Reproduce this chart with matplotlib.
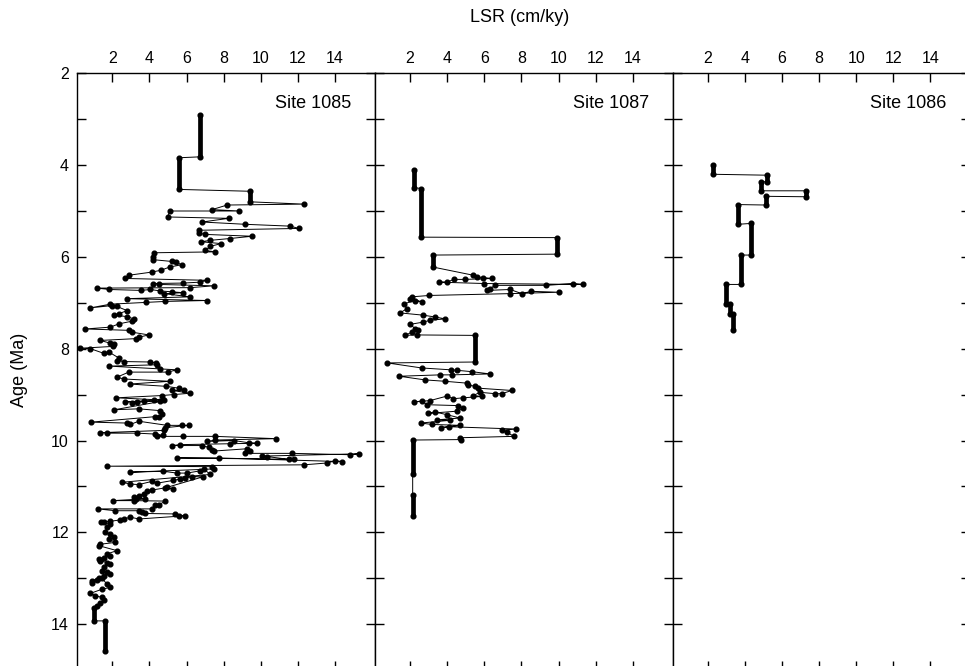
"""
Linear sedimentation rate (LSR) vs age for Sites 1085, 1087 and 1086.
Three panels side by side sharing the age axis.
"""
import numpy as np
import matplotlib.pyplot as plt

plt.rcParams.update({'font.family': ['Liberation Sans', 'DejaVu Sans'],
                     'font.size': 11.5})

SITES = ["Site 1085", "Site 1087", "Site 1086"]

# ---- Site 1085: sample sequence (LSR cm/ky, age Ma) ----
s1085_lsr = [6.72, 6.72, 5.59, 5.59, 9.42, 9.42, 12.31, 8.18, 7.37, 8.84, 5.09, 4.98,
             8.27, 6.83, 9.17, 11.59, 12.04, 6.65, 6.65, 7.01, 9.53, 8.32, 7.25, 6.78,
             7.86, 7.28, 7.01, 7.55, 4.26, 4.19, 4.19, 5.22, 5.43, 5.75, 5.09, 4.62,
             4.14, 2.88, 2.70, 7.10, 6.74, 5.81, 4.19, 4.50, 7.46, 6.20, 1.17, 1.84,
             3.55, 4.05, 4.55, 5.22, 5.81, 4.77, 6.20, 2.79, 7.10, 4.86, 3.83, 1.89,
             0.82, 1.98, 2.25, 2.79, 2.34, 2.07, 2.79, 3.15, 3.06, 2.34, 1.89, 0.55,
             2.88, 3.06, 3.96, 3.42, 3.29, 1.35, 1.89, 2.07, 2.04, 0.28, 0.82, 1.53,
             1.80, 2.34, 2.25, 2.61, 4.05, 4.35, 4.41, 1.84, 4.59, 5.48, 4.98, 2.88,
             2.25, 2.61, 5.09, 2.93, 4.91, 5.57, 5.84, 5.22, 6.20, 5.30, 4.68, 2.22,
             4.23, 4.80, 2.70, 3.33, 3.06, 3.69, 4.59, 2.11, 3.42, 4.59, 4.68, 4.50,
             4.32, 0.85, 2.79, 2.97, 3.42, 4.95, 5.75, 6.11, 4.86, 4.80, 1.32, 1.71,
             3.33, 4.32, 4.73, 4.41, 5.81, 7.55, 10.82, 7.55, 7.10, 8.54, 9.35, 9.79,
             8.36, 5.66, 5.21, 6.83, 7.19, 7.37, 7.46, 9.26, 9.44, 9.17, 11.68, 14.82,
             15.27, 10.07, 10.33, 11.50, 11.77, 5.48, 7.73, 14.38, 14.02, 13.57, 12.31, 1.71,
             7.37, 7.46, 2.97, 4.73, 5.48, 6.02, 6.74, 6.92, 7.28, 2.52, 2.97, 3.42,
             4.14, 4.41, 5.27, 5.66, 5.93, 6.29, 6.89, 4.95, 5.27, 4.86, 4.14, 3.87,
             3.69, 3.42, 3.15, 3.29, 3.78, 2.04, 3.15, 4.86, 4.50, 4.32, 4.14, 1.21,
             2.16, 3.42, 3.60, 3.78, 5.39, 5.57, 5.93, 3.42, 2.97, 2.61, 2.43, 1.89,
             1.39, 1.53, 1.89, 1.71, 1.62, 1.89, 2.07, 1.80, 2.16, 1.35, 1.26, 2.25,
             1.71, 1.89, 1.53, 1.26, 1.35, 1.71, 1.89, 1.53, 1.44, 1.71, 1.89, 1.53,
             1.26, 0.90, 0.90, 1.17, 1.44, 1.71, 1.89, 1.44, 0.82, 1.08, 1.44, 1.53,
             1.35, 1.17, 0.99, 0.99, 1.62, 1.62]
s1085_age = [2.91, 3.82, 3.84, 4.53, 4.57, 4.80, 4.85, 4.87, 4.97, 5.00, 5.00, 5.13,
             5.16, 5.24, 5.29, 5.33, 5.38, 5.42, 5.48, 5.51, 5.55, 5.60, 5.64, 5.67,
             5.71, 5.77, 5.86, 5.89, 5.91, 6.00, 6.06, 6.10, 6.12, 6.17, 6.22, 6.29,
             6.33, 6.40, 6.47, 6.51, 6.55, 6.57, 6.58, 6.60, 6.63, 6.67, 6.68, 6.71,
             6.73, 6.71, 6.74, 6.76, 6.78, 6.80, 6.87, 6.91, 6.95, 6.97, 6.99, 7.03,
             7.11, 7.06, 7.08, 7.17, 7.24, 7.27, 7.30, 7.35, 7.40, 7.46, 7.53, 7.57,
             7.60, 7.64, 7.70, 7.75, 7.78, 7.82, 7.88, 7.89, 7.95, 7.99, 8.00, 8.10,
             8.07, 8.20, 8.26, 8.28, 8.29, 8.31, 8.35, 8.38, 8.44, 8.46, 8.51, 8.51,
             8.62, 8.66, 8.71, 8.77, 8.82, 8.86, 8.90, 8.91, 8.97, 9.00, 9.02, 9.07,
             9.11, 9.11, 9.16, 9.16, 9.19, 9.15, 9.15, 9.33, 9.31, 9.35, 9.42, 9.49,
             9.48, 9.60, 9.62, 9.65, 9.58, 9.67, 9.67, 9.67, 9.72, 9.78, 9.83, 9.84,
             9.84, 9.86, 9.89, 9.91, 9.91, 9.91, 9.96, 9.99, 10.02, 10.00, 10.05, 10.06,
             10.07, 10.09, 10.11, 10.11, 10.15, 10.20, 10.23, 10.18, 10.22, 10.28, 10.28, 10.31,
             10.29, 10.34, 10.35, 10.41, 10.41, 10.38, 10.38, 10.46, 10.44, 10.49, 10.53, 10.56,
             10.57, 10.62, 10.69, 10.67, 10.71, 10.71, 10.66, 10.62, 10.74, 10.91, 10.95, 10.96,
             10.89, 10.93, 10.87, 10.84, 10.82, 10.79, 10.79, 11.02, 11.06, 11.03, 11.08, 11.11,
             11.16, 11.20, 11.24, 11.27, 11.27, 11.31, 11.31, 11.32, 11.40, 11.40, 11.49, 11.49,
             11.53, 11.53, 11.56, 11.59, 11.60, 11.64, 11.64, 11.71, 11.67, 11.71, 11.73, 11.76,
             11.78, 11.78, 11.82, 11.89, 12.00, 12.04, 12.11, 12.15, 12.22, 12.26, 12.29, 12.40,
             12.47, 12.51, 12.55, 12.58, 12.62, 12.66, 12.69, 12.76, 12.84, 12.87, 12.91, 12.95,
             13.00, 13.06, 13.11, 13.04, 13.00, 13.13, 13.20, 13.24, 13.33, 13.38, 13.42, 13.48,
             13.53, 13.60, 13.64, 13.93, 13.93, 14.58]
# densely sampled intervals of constant rate: lsr, top age, bottom age
s1085_run_lsr = [6.72, 5.59, 9.42, 0.99, 1.62]
s1085_run_top = [2.91, 3.84, 4.57, 13.64, 13.93]
s1085_run_bot = [3.82, 4.53, 4.80, 13.93, 14.58]

# ---- Site 1087 ----
s1087_lsr = [2.21, 2.21, 2.59, 2.59, 9.94, 9.94, 3.22, 3.22, 5.41, 5.59, 5.95, 6.40,
             4.96, 4.34, 4.01, 3.56, 5.99, 11.34, 10.80, 9.33, 6.58, 6.31, 6.13, 7.39,
             8.02, 8.52, 10.00, 7.39, 3.04, 2.09, 2.00, 2.63, 2.27, 1.68, 1.82, 1.46,
             2.72, 3.35, 3.89, 3.08, 2.72, 2.00, 2.27, 2.45, 2.09, 1.73, 2.36, 5.50,
             5.50, 0.78, 2.63, 4.19, 4.51, 5.32, 6.31, 4.24, 3.62, 1.42, 2.81, 3.89,
             5.05, 5.14, 5.50, 5.68, 7.48, 6.94, 6.58, 5.77, 5.41, 5.86, 4.87, 4.33,
             4.01, 3.08, 2.23, 2.63, 2.90, 4.60, 4.87, 4.55, 2.99, 3.35, 4.01, 4.69,
             3.47, 4.15, 2.57, 3.17, 4.69, 3.65, 4.12, 7.71, 6.94, 7.21, 7.60, 4.69,
             4.73, 2.14, 2.14, 2.14, 2.14]
s1087_age = [4.10, 4.49, 4.51, 5.57, 5.58, 5.94, 5.96, 6.22, 6.40, 6.44, 6.45, 6.47,
             6.49, 6.49, 6.55, 6.55, 6.58, 6.60, 6.58, 6.62, 6.62, 6.69, 6.73, 6.71,
             6.80, 6.75, 6.77, 6.80, 6.84, 6.87, 6.91, 6.98, 6.95, 7.02, 7.13, 7.22,
             7.27, 7.31, 7.35, 7.38, 7.42, 7.47, 7.56, 7.60, 7.64, 7.71, 7.70, 7.71,
             8.29, 8.31, 8.42, 8.46, 8.47, 8.50, 8.55, 8.57, 8.57, 8.60, 8.68, 8.71,
             8.75, 8.79, 8.82, 8.86, 8.91, 8.98, 8.98, 8.95, 9.02, 9.04, 9.07, 9.09,
             9.03, 9.13, 9.16, 9.14, 9.22, 9.24, 9.30, 9.36, 9.41, 9.38, 9.44, 9.51,
             9.55, 9.56, 9.62, 9.65, 9.67, 9.72, 9.70, 9.75, 9.78, 9.82, 9.91, 9.94,
             9.98, 9.99, 10.73, 11.18, 11.64]
s1087_run_lsr = [2.21, 2.59, 9.94, 3.22, 5.50, 2.14, 2.14]
s1087_run_top = [4.10, 4.51, 5.58, 5.96, 7.71, 9.99, 11.18]
s1087_run_bot = [4.49, 5.57, 5.94, 6.22, 8.29, 10.73, 11.64]

# ---- Site 1086: only constant-rate intervals ----
s1086_run_lsr = [2.29, 5.20, 4.85, 7.31, 5.16, 3.63, 4.35, 3.81, 3.00, 3.18, 3.36]
s1086_run_top = [4.00, 4.22, 4.37, 4.56, 4.68, 4.86, 5.27, 5.96, 6.60, 7.02, 7.24]
s1086_run_bot = [4.20, 4.36, 4.56, 4.69, 4.87, 5.29, 5.96, 6.60, 7.02, 7.24, 7.60]

# sequence for 1086 is just the run end points in order
s1086_lsr = [v for v in s1086_run_lsr for _ in (0, 1)]
s1086_age = [a for pair in zip(s1086_run_top, s1086_run_bot) for a in pair]

series = [
    (s1085_lsr, s1085_age, s1085_run_lsr, s1085_run_top, s1085_run_bot),
    (s1087_lsr, s1087_age, s1087_run_lsr, s1087_run_top, s1087_run_bot),
    (s1086_lsr, s1086_age, s1086_run_lsr, s1086_run_top, s1086_run_bot),
]

W, H = 965, 666
fig = plt.figure(figsize=(W / 100, H / 100), dpi=100)

left_px = [77.3, 375.0, 672.7]
width_px = 297.7
top_px, bot_px = 73.3, 670.0

for i, (lsr, age, rl, rt, rb) in enumerate(series):
    ax = fig.add_axes([left_px[i] / W, 1 - bot_px / H,
                       width_px / W, (bot_px - top_px) / H])
    ax.plot(lsr, age, color='black', lw=0.7, zorder=2)
    ax.plot(lsr, age, ls='none', marker='o', ms=3.4, mfc='black',
            mec='black', zorder=3)
    for x, a0, a1 in zip(rl, rt, rb):
        ax.plot([x, x], [a0, a1], color='black', lw=3.4,
                solid_capstyle='round', zorder=4)

    ax.set_xlim(0.11, 16.15)
    ax.set_ylim(15, 2)
    ax.set_xticks(np.arange(2, 15, 2))
    ax.set_yticks(np.arange(2, 15, 2))
    ax.set_yticks(np.arange(3, 15, 2), minor=True)
    ax.xaxis.tick_top()
    ax.tick_params(axis='x', which='both', direction='in', length=6.8,
                   width=1.0, top=True, bottom=True, labeltop=True,
                   labelbottom=False, pad=5, labelsize=11.5)
    ax.tick_params(axis='y', which='both', direction='in', length=6.8,
                   width=1.0, left=True, right=True, labelleft=(i == 0),
                   labelright=False, pad=6, labelsize=11.5)
    for sp in ax.spines.values():
        sp.set_linewidth(1.0)
    ax.text(0.92, 0.942, SITES[i], transform=ax.transAxes, ha='right',
            va='baseline', fontsize=13)

fig.text(520 / W, 1 - 18 / H, "LSR (cm/ky)", ha='center', va='center',
         fontsize=13)
fig.text(20 / W, 1 - 370 / H, "Age (Ma)", ha='center', va='center',
         rotation=90, fontsize=13)

fig.savefig("out.png", dpi=100)
